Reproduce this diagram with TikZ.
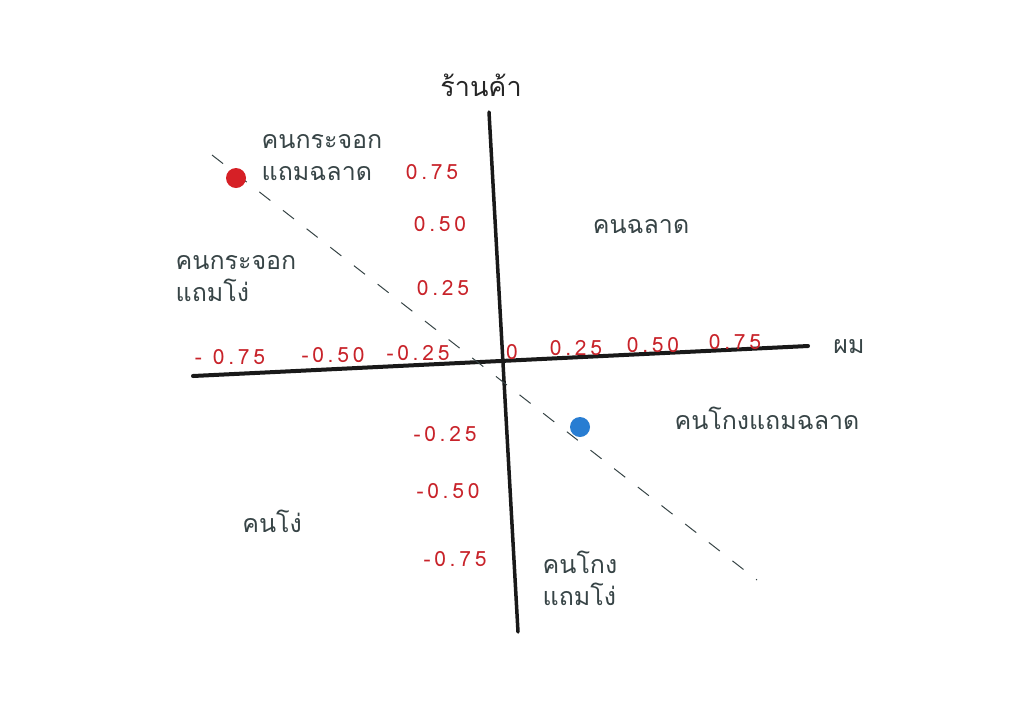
\documentclass[tikz,border=0pt]{standalone}
\usepackage{fontspec}
\newfontfamily\thaifont[Script=Thai]{Loma}
\newfontfamily\numfont[LetterSpace=18]{Loma}
\definecolor{inkgray}{RGB}{55,68,70}
\definecolor{numred}{RGB}{200,35,42}
\definecolor{dotred}{RGB}{214,32,38}
\definecolor{dotblue}{RGB}{40,125,210}
\begin{document}
\begin{tikzpicture}[x=1pt, y=-1pt,
	lbl/.style = {font=\thaifont\fontsize{25}{32}\selectfont, text=inkgray, inner sep=0pt},
	num/.style = {font=\numfont\fontsize{21}{24}\selectfont, text=numred, inner sep=0pt},
	axis/.style = {line width=4pt, black!90, line cap=round}]
	\useasboundingbox (0, 0) rectangle (1024, 724);
	% axes
	\draw[axis] (193, 376) -- (808, 346);
	\draw[axis, line width=3.5pt] (489, 112) -- (518, 632);
	\draw[inkgray, line width=1pt, dash pattern=on 14pt off 16pt] (212, 155) -- (757, 580);
	\fill[dotred] (236, 178) circle(10);
	\fill[dotblue] (580, 427) circle(10);
	% axis titles
	\node[lbl, font=\thaifont\fontsize{27}{30}\selectfont, text=black!85] (shop) at (481, 85) {ร้านค้า};
	\node[lbl] (me) at (849, 347) {ผม};
	% quadrant labels
	\node[lbl, align=left] (weaksmart) at (322, 158) {คนกระจอก\\แถมฉลาด};
	\node[lbl, align=left] (weakdumb) at (236, 279) {คนกระจอก\\แถมโง่};
	\node[lbl] (smart) at (641, 227) {คนฉลาด};
	\node[lbl] (cheatsmart) at (767, 418) {คนโกงแถมฉลาด};
	\node[lbl] (dumb) at (272, 521) {คนโง่};
	\node[lbl, align=left] (cheatdumb) at (580, 578) {คนโกง\\แถมโง่};
	% y ticks
	\node[num] (y1) at (432, 172) {0.75};
	\node[num] (y2) at (440, 224) {0.50};
	\node[num] (y3) at (443, 288) {0.25};
	\node[num] (y4) at (445, 434) {-0.25};
	\node[num] (y5) at (448, 491) {-0.50};
	\node[num] (y6) at (455, 559) {-0.75};
	% x ticks
	\node[num] (x1) at (230, 357) {- 0.75};
	\node[num] (x2) at (333, 355) {-0.50};
	\node[num] (x3) at (418, 353) {-0.25};
	\node[num] (x4) at (512, 352) {0};
	\node[num] (x5) at (576, 348) {0.25};
	\node[num] (x6) at (653, 345) {0.50};
	\node[num] (x7) at (735, 342) {0.75};
\end{tikzpicture}
\end{document}
